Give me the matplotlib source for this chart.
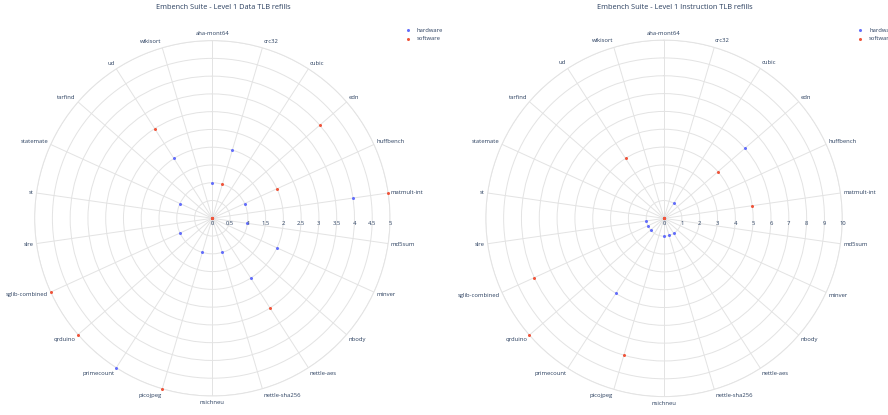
import matplotlib.pyplot as plt
import numpy as np

benchmarks = [
    "aha-mont64", "crc32", "cubic", "edn", "huffbench", "matmult-int",
    "md5sum", "minver", "nbody", "nettle-aes", "nettle-sha256", "nsichneu",
    "picojpeg", "primecount", "qrduino", "sglib-combined", "slre", "st",
    "statemate", "tarfind", "ud", "wikisort",
]

# level 1 data TLB refills
dtlb_hardware = [1, 2, 0, 0, 1, 4, 1, 2, 0, 2, 1, 0, 1, 5, 0, 1, 0, 0, 1, 0, 2, 0]
dtlb_software = [0, 1, 0, 4, 2, 5, 0, 0, 0, 3, 0, 0, 5, 0, 5, 5, 0, 0, 0, 0, 3, 0]

# level 1 instruction TLB refills
itlb_hardware = [0, 0, 1, 6, 0, 0, 0, 0, 0, 1, 1, 1, 0, 5, 1, 1, 1, 0, 0, 0, 0, 0]
itlb_software = [0, 0, 0, 4, 0, 5, 0, 0, 0, 0, 0, 0, 8, 0, 10, 8, 0, 0, 0, 0, 4, 0]

HW_COLOR = "#636efa"
SW_COLOR = "#EF553B"
GRID = "#e3e3e3"
TEXT = "#2a3f5f"
FONT = "Open Sans"

plt.rcParams["font.family"] = FONT


def polar_panel(fig, rect, title, hw, sw, rmax, rticks, rlabels):
    ax = fig.add_axes(rect, projection="polar")
    ax.set_theta_zero_location("N")
    ax.set_theta_direction(-1)
    theta = np.arange(len(benchmarks)) * 2 * np.pi / len(benchmarks)

    ax.set_ylim(0, rmax)
    ax.set_xticks(theta)
    ax.set_xticklabels([])
    ax.set_yticks(rticks)
    ax.set_yticklabels([])
    ax.tick_params(length=0)
    ax.grid(True, color=GRID, linewidth=0.7)
    ax.spines["polar"].set_color(GRID)
    ax.spines["polar"].set_linewidth(0.7)

    ax.plot(theta, hw, "o", color=HW_COLOR, markersize=2.2, markeredgewidth=0,
            label="hardware", clip_on=False, zorder=3)
    ax.plot(theta, sw, "o", color=SW_COLOR, markersize=2.2, markeredgewidth=0,
            label="software", clip_on=False, zorder=3)

    # category labels sit just outside the outer ring
    for t, name in zip(theta, benchmarks):
        c, s = np.sin(t), np.cos(t)
        if c > 0.05:
            ha = "left"
        elif c < -0.05:
            ha = "right"
        else:
            ha = "center"
        ax.annotate(name, xy=(t, rmax), xytext=(2.0 * c, 4.8 * s),
                    textcoords="offset points", ha=ha, va="center",
                    fontsize=4.2, color=TEXT, annotation_clip=False)

    # radial tick labels along the east spoke
    for r, lab in zip(rticks, rlabels):
        ax.annotate(lab, xy=(np.pi / 2, r), xytext=(0, -3.9),
                    textcoords="offset points", ha="center", va="center",
                    fontsize=4.2, color=TEXT, annotation_clip=False)
    ax.annotate("0", xy=(np.pi / 2, 0), xytext=(0, -3.9),
                textcoords="offset points", ha="center", va="center",
                fontsize=4.2, color=TEXT, annotation_clip=False)
    return ax


fig = plt.figure(figsize=(8.88, 4.15), dpi=100)

polar_panel(fig, [0.039, 0.0458, 0.4002, 0.8564],
            "Embench Suite - Level 1 Data TLB refills",
            dtlb_hardware, dtlb_software, 5,
            np.arange(0.5, 5.01, 0.5), ["0.5", "1", "1.5", "2", "2.5", "3", "3.5", "4", "4.5", "5"])
polar_panel(fig, [0.547, 0.0443, 0.4016, 0.859],
            "Embench Suite - Level 1 Instruction TLB refills",
            itlb_hardware, itlb_software, 10,
            np.arange(1, 11), [str(v) for v in range(1, 11)])

fig.text(223 / 888, 1 - 7.5 / 415, "Embench Suite - Level 1 Data TLB refills",
         ha="center", va="center", fontsize=5.3, color=TEXT)
fig.text(675 / 888, 1 - 7.5 / 415, "Embench Suite - Level 1 Instruction TLB refills",
         ha="center", va="center", fontsize=5.3, color=TEXT)

# legends drawn by hand so the right one can run off the edge
for mx, tx in [(408.3, 416.7), (860.0, 869.0)]:
    for my, lab, col in [(30.0, "hardware", HW_COLOR), (39.0, "software", SW_COLOR)]:
        fig.lines.append(plt.Line2D([mx / 888], [1 - my / 415], marker="o",
                                    markersize=2.2, markeredgewidth=0, color=col,
                                    transform=fig.transFigure))
        fig.text(tx / 888, 1 - my / 415, lab, ha="left", va="center",
                 fontsize=4.2, color=TEXT)

fig.savefig("out.png", dpi=100)
